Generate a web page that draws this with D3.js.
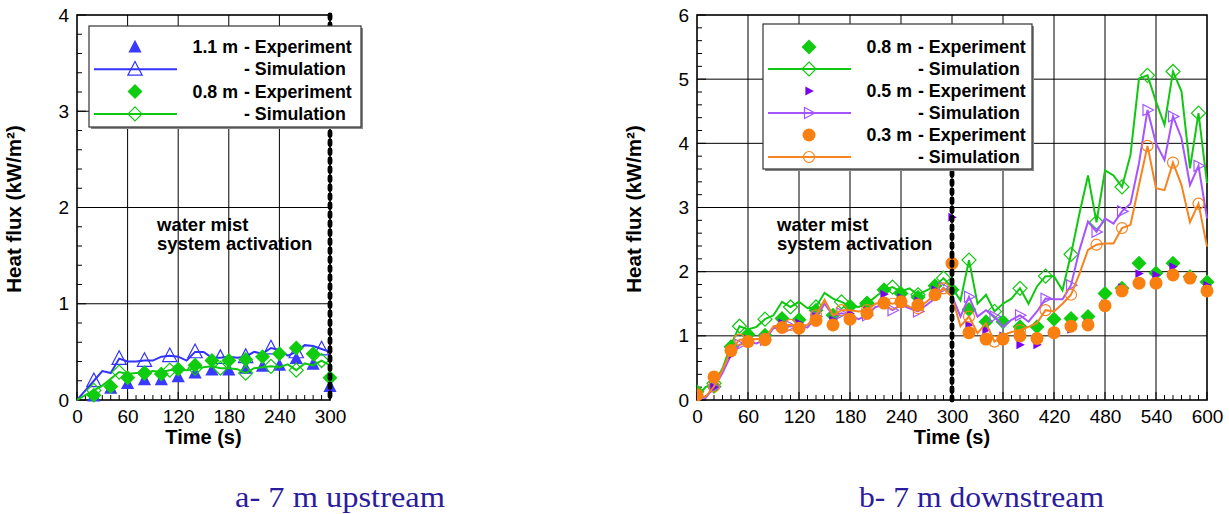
<!DOCTYPE html>
<html><head><meta charset="utf-8">
<script src="https://cdn.jsdelivr.net/npm/d3@7"></script>
<style>
html,body{margin:0;padding:0;background:#fff;}
</style></head>
<body><svg id="c" width="1229" height="514" font-family="Liberation Sans, Arial, sans-serif"></svg>
<script>
// ---------- DATA ----------
// Chart a (7 m upstream)
const aXTicks = [0, 60, 120, 180, 240, 300];
const aYTicks = [0, 1, 2, 3, 4];
const aExpT = [20,40,60,80,100,120,140,160,180,200,220,240,260,280,300];
const aExp11 = [0.04,0.12,0.17,0.21,0.21,0.24,0.28,0.31,0.31,0.33,0.35,0.36,0.43,0.37,0.14];
const aExp08 = [0.05,0.14,0.23,0.28,0.27,0.32,0.36,0.41,0.41,0.42,0.45,0.48,0.54,0.48,0.23];
const aSimT = d3.range(0, 301, 10);
const aSim11 = [0,0.10,0.20,0.30,0.28,0.43,0.40,0.40,0.41,0.41,0.45,0.46,0.45,0.41,0.50,0.50,0.44,0.44,0.45,0.44,0.45,0.50,0.48,0.54,0.52,0.46,0.50,0.57,0.56,0.53,0.50];
const aSim08 = [0,0.05,0.10,0.15,0.22,0.29,0.27,0.28,0.28,0.30,0.29,0.31,0.32,0.31,0.33,0.34,0.35,0.33,0.33,0.32,0.28,0.33,0.34,0.35,0.34,0.37,0.31,0.38,0.36,0.41,0.36];

// Chart b (7 m downstream)
const bXTicks = [0,60,120,180,240,300,360,420,480,540,600];
const bYTicks = [0,1,2,3,4,5,6];
const bExpT = d3.range(0, 601, 20);
const bExp08 = [0.13,0.21,0.83,1.02,1.01,1.27,1.25,1.40,1.32,1.46,1.51,1.72,1.66,1.60,1.78,1.72,1.41,1.22,1.22,1.14,1.14,1.26,1.27,1.30,1.66,1.74,2.13,1.98,2.13,1.92,1.84];
const bExp05 = [0.12,0.20,0.70,0.95,0.95,1.20,1.20,1.30,1.25,1.35,1.40,1.65,1.60,1.55,1.72,2.85,1.17,1.09,1.00,0.86,0.86,1.05,1.10,1.20,1.50,1.75,1.97,1.95,2.08,1.90,1.79];
const bExp03 = [0.08,0.36,0.77,0.91,0.94,1.13,1.12,1.24,1.17,1.26,1.35,1.51,1.53,1.48,1.64,2.13,1.05,0.95,0.95,1.00,0.96,1.05,1.15,1.17,1.47,1.70,1.82,1.82,1.95,1.90,1.70];
const bSimT = d3.range(0, 601, 10);
const bSim08 = [0.05,0.20,0.26,0.49,0.86,1.15,1.10,1.14,1.26,1.32,1.53,1.45,1.53,1.43,1.45,1.67,1.58,1.53,1.46,1.45,1.50,1.61,1.71,1.76,1.69,1.74,1.64,1.71,1.77,1.90,1.75,1.55,2.18,1.50,1.64,1.38,1.50,1.58,1.74,1.50,1.77,1.93,1.93,1.71,2.27,2.91,3.50,2.77,3.58,3.50,3.32,3.82,5.01,5.06,4.65,4.29,5.12,4.81,3.61,4.47,3.38];
const bSim05 = [0.05,0.03,0.20,0.42,0.70,0.86,0.91,0.88,0.94,1.12,1.13,1.15,1.15,1.13,1.30,1.50,1.32,1.35,1.32,1.26,1.32,1.45,1.48,1.40,1.48,1.43,1.38,1.48,1.58,1.75,1.62,1.30,1.61,1.30,1.40,1.30,1.14,1.25,1.32,1.22,1.38,1.58,1.57,1.57,1.79,2.34,2.78,2.62,2.83,2.75,2.94,3.06,3.69,4.52,4.00,3.74,4.42,4.08,3.35,3.65,2.83];
const bSim03 = [0.05,0.05,0.21,0.47,0.78,0.94,0.94,0.95,0.95,1.15,1.17,1.17,1.15,1.17,1.32,1.56,1.32,1.40,1.40,1.38,1.40,1.50,1.53,1.50,1.53,1.45,1.43,1.53,1.64,1.74,1.60,1.15,1.30,1.04,1.20,0.91,1.01,1.06,1.09,1.14,1.20,1.40,1.38,1.50,1.64,1.97,2.34,2.42,2.44,2.44,2.68,2.73,3.35,3.96,3.30,3.27,3.70,3.35,2.77,3.06,2.39];

const activationT = 300;
const yTitle = "Heat flux (kW/m²)";
const xTitle = "Time (s)";
const annot = ["water mist", "system activation"];
const captions = ["a- 7 m upstream", "b- 7 m downstream"];

// ---------- STYLE ----------
const C = {blue:"#3333ff", blueF:"#3a3aff", green:"#11c811", greenF:"#10cc10", purple:"#a555ff", purpleF:"#7a00f0", orange:"#f7831f", orangeF:"#f98010"};
const SANS = "Liberation Sans, Arial, sans-serif";
const SERIF = "Liberation Serif, Times New Roman, serif";

const svg = d3.select("#c");

function shape(type, s){
  switch(type){
    case "triUp": return `M0,${-s*0.6}L${s*0.55},${s*0.45}L${-s*0.55},${s*0.45}Z`;
    case "diamond": return `M0,${-s}L${s},0L0,${s}L${-s},0Z`;
    case "triRight": return `M${s*0.6},0L${-s*0.45},${s*0.55}L${-s*0.45},${-s*0.55}Z`;
  }
}
function drawMarker(g, type, x, y, size, color, filled){
  if(type==="circle"){
    g.append("circle").attr("cx",x).attr("cy",y).attr("r",size)
      .attr("fill",filled?color:"none").attr("stroke",color).attr("stroke-width",filled?0:1.2);
  } else {
    g.append("path").attr("d",shape(type,size)).attr("transform",`translate(${x},${y})`)
      .attr("fill",filled?color:"none").attr("stroke",color).attr("stroke-width",filled?0:1.2)
      .attr("stroke-linejoin","miter");
  }
}

function chart(opt){
  const x = d3.scaleLinear().domain(opt.xDom).range([opt.x0, opt.x1]);
  const y = d3.scaleLinear().domain(opt.yDom).range([400, 15]);
  const g = svg.append("g");
  // grid
  g.append("g").selectAll("line").data(opt.xTicks.slice(1,-1)).join("line")
    .attr("x1",d=>x(d)).attr("x2",d=>x(d)).attr("y1",y.range()[1]).attr("y2",y.range()[0])
    .attr("stroke","#000").attr("stroke-width",1);
  g.append("g").selectAll("line").data(opt.yTicks.slice(1,-1)).join("line")
    .attr("y1",d=>y(d)).attr("y2",d=>y(d)).attr("x1",opt.x0).attr("x2",opt.x1)
    .attr("stroke","#000").attr("stroke-width",1);
  // minor ticks
  const xMinor = d3.range(opt.xDom[0], opt.xDom[1]+0.1, 10);
  g.append("g").selectAll("line").data(xMinor).join("line")
    .attr("x1",d=>x(d)).attr("x2",d=>x(d)).attr("y1",400).attr("y2",d=>d%60===0?392:395)
    .attr("stroke","#000").attr("stroke-width",1);
  const yMinor = d3.range(opt.yDom[0], opt.yDom[1]+0.01, 0.2);
  g.append("g").selectAll("line").data(yMinor).join("line")
    .attr("y1",d=>y(d)).attr("y2",d=>y(d)).attr("x1",opt.x0).attr("x2",d=>Math.abs(d-Math.round(d))<0.01?opt.x0+9:opt.x0+5)
    .attr("stroke","#000").attr("stroke-width",1);
  // axes via d3
  const xAx = g.append("g").attr("transform","translate(0,400)")
    .call(d3.axisBottom(x).tickValues(opt.xTicks).tickSize(0).tickPadding(10).tickFormat(d3.format("d")));
  const yAx = g.append("g").attr("transform",`translate(${opt.x0},0)`)
    .call(d3.axisLeft(y).tickValues(opt.yTicks).tickSize(0).tickPadding(8).tickFormat(d3.format("d")));
  [xAx,yAx].forEach(a=>{a.attr("font-family",null).attr("font-size",null); a.select(".domain").remove();
    a.selectAll("text").style("font-size","19px").style("font-family",SANS).attr("fill","#000");});
  // frame
  g.append("rect").attr("x",opt.x0).attr("y",15).attr("width",opt.x1-opt.x0).attr("height",385)
    .attr("fill","none").attr("stroke","#000").attr("stroke-width",1.6);
  // titles
  g.append("text").attr("transform",`translate(${opt.x0-56},${209}) rotate(-90)`)
    .attr("text-anchor","middle").attr("font-weight","bold").style("font-size","20.5px").text(yTitle);
  g.append("text").attr("x",(opt.x0+opt.x1)/2).attr("y",444).attr("text-anchor","middle")
    .attr("font-weight","bold").style("font-size","20px").text(xTitle);
  // annotation
  g.append("g").selectAll("text").data(annot).join("text")
    .attr("x",opt.x0+80).attr("y",(d,i)=>231+i*19).attr("font-weight","bold").style("font-size","18.5px").text(d=>d);
  // caption
  g.append("text").attr("x",opt.capX).attr("y",507).style("font-family",SERIF)
    .style("font-size","30px").attr("fill","#2a1c9c").attr("textLength",opt.capW).attr("lengthAdjust","spacingAndGlyphs").text(opt.caption);

  const cid = "clip"+opt.id;
  svg.append("clipPath").attr("id",cid).append("rect").attr("x",opt.x0).attr("y",10).attr("width",opt.x1-opt.x0+10).attr("height",395);
  const data = g.append("g").attr("clip-path",`url(#${cid})`);

  opt.series.forEach(s=>{
    const line = d3.line().x((d,i)=>x(s.simT[i])).y(d=>y(d));
    data.append("path").attr("d",line(s.sim)).attr("fill","none").attr("stroke",s.lc).attr("stroke-width",2).attr("stroke-linejoin","miter");
    s.simT.forEach((t,i)=>{ if(t%30===20) drawMarker(data, s.type, x(t), y(s.sim[i]), s.oSize, s.lc, false); });
    s.expT.forEach((t,i)=>drawMarker(data, s.type, x(t), y(s.exp[i]), s.fSize, s.fc, true));
  });

  // activation line
  g.append("line").attr("x1",x(activationT)).attr("x2",x(activationT)).attr("y1",opt.dashTop).attr("y2",400)
    .attr("stroke","#000").attr("stroke-width",4.8).attr("stroke-dasharray","3.5,5.5").attr("stroke-linecap","round");

  // legend
  const L = opt.legend;
  const lg = g.append("g");
  lg.append("rect").attr("x",L.x+2).attr("y",L.y+2).attr("width",L.w).attr("height",L.h).attr("fill","#888");
  lg.append("rect").attr("x",L.x).attr("y",L.y).attr("width",L.w).attr("height",L.h).attr("fill","#fff").attr("stroke","#333").attr("stroke-width",1.2);
  opt.series.forEach((s,k)=>{
    const r1 = L.y + L.row0 + k*2*L.dy, r2 = r1 + L.dy;
    drawMarker(lg, s.type, L.sx, r1, s.fSize, s.fc, true);
    lg.append("line").attr("x1",L.lx0).attr("x2",L.lx1).attr("y1",r2).attr("y2",r2).attr("stroke",s.lc).attr("stroke-width",2);
    drawMarker(lg, s.type, L.sx, r2, s.oSize, s.lc, false);
    lg.append("text").attr("x",L.dashX-6).attr("y",r1+6).attr("text-anchor","end").attr("font-weight","bold").style("font-size","17.8px").text(s.name);
    lg.append("text").attr("x",L.dashX).attr("y",r1+6).attr("font-weight","bold").style("font-size","17.8px").text("- Experiment");
    lg.append("text").attr("x",L.dashX).attr("y",r2+6).attr("font-weight","bold").style("font-size","17.8px").text("- Simulation");
  });
}

chart({id:"a", x0:77, x1:330, xDom:[0,300], yDom:[0,4], xTicks:aXTicks, yTicks:aYTicks, dashTop:15,
  caption:captions[0], capX:235, capW:210,
  legend:{x:89,y:26,w:272,h:101,row0:21,dy:22.3,sx:135,lx0:94,lx1:177,dashX:244},
  series:[
    {name:"1.1 m", type:"triUp", simT:aSimT, sim:aSim11, expT:aExpT, exp:aExp11, lc:C.blue, fc:C.blueF, fSize:12, oSize:13},
    {name:"0.8 m", type:"diamond", simT:aSimT, sim:aSim08, expT:aExpT, exp:aExp08, lc:C.green, fc:C.greenF, fSize:7.5, oSize:7}
  ]});

chart({id:"b", x0:697, x1:1207, xDom:[0,600], yDom:[0,6], xTicks:bXTicks, yTicks:bYTicks, dashTop:172,
  caption:captions[1], capX:859, capW:245,
  legend:{x:763,y:24,w:269,h:145,row0:23,dy:22,sx:809,lx0:768,lx1:851,dashX:918},
  series:[
    {name:"0.8 m", type:"diamond", simT:bSimT, sim:bSim08, expT:bExpT, exp:bExp08, lc:C.green, fc:C.greenF, fSize:7.5, oSize:7},
    {name:"0.5 m", type:"triRight", simT:bSimT, sim:bSim05, expT:bExpT, exp:bExp05, lc:C.purple, fc:C.purpleF, fSize:8, oSize:10},
    {name:"0.3 m", type:"circle", simT:bSimT, sim:bSim03, expT:bExpT, exp:bExp03, lc:C.orange, fc:C.orangeF, fSize:6.5, oSize:5.5}
  ]});
</script></body></html>
